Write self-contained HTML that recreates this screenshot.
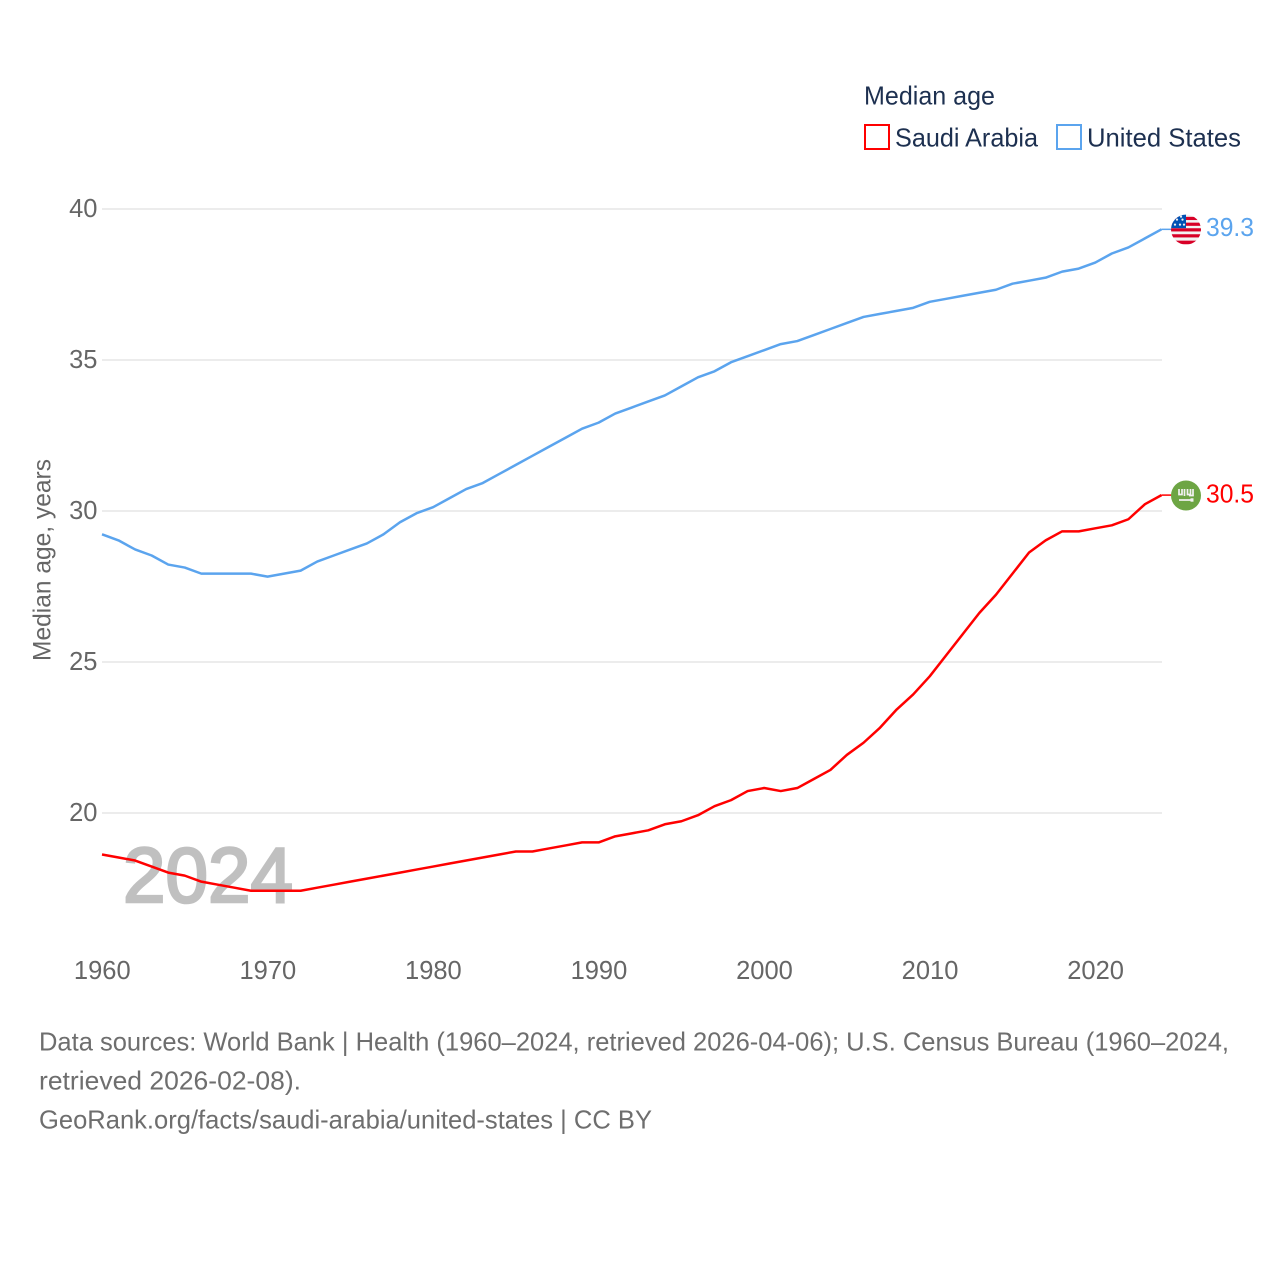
<!DOCTYPE html>
<html lang="en">
<head>
<meta charset="utf-8">
<title>Median age: Saudi Arabia and United States</title>
<style>
html,body{margin:0;padding:0;background:#fff;}
svg{display:block;font-family:"Liberation Sans",sans-serif;}
</style>
</head>
<body>
<svg id="chart" xmlns="http://www.w3.org/2000/svg" width="1280" height="1280" viewBox="0 0 1280 1280">
  <defs>
    <clipPath id="flag-clip"><circle cx="0" cy="0" r="15"></circle></clipPath>
  </defs>
  <rect x="0" y="0" width="1280" height="1280" fill="#ffffff"></rect>

  <g id="grid"></g>
  <g id="y-ticks"></g>
  <g id="x-ticks"></g>

  <text transform="translate(50.5,560) rotate(-90)" text-anchor="middle" font-size="25" fill="#666666" textLength="202" lengthAdjust="spacingAndGlyphs">Median age, years</text>

  <text x="123" y="902" font-size="78" font-weight="400" fill="#c0c0c0" stroke="#c0c0c0" stroke-width="2.6" textLength="170" lengthAdjust="spacingAndGlyphs">2024</text>

  <g id="series"></g>

  <g id="flag-us">
    <g clip-path="url(#flag-clip)">
      <rect x="-16" y="-16" width="32" height="32" fill="#f2f2f2"></rect>
      <rect x="-16" y="-12.8" width="32" height="3.2" fill="#d80027"></rect>
      <rect x="-16" y="-7" width="32" height="3.2" fill="#d80027"></rect>
      <rect x="-16" y="-1.4" width="32" height="3.2" fill="#d80027"></rect>
      <rect x="-16" y="4.6" width="32" height="3.2" fill="#d80027"></rect>
      <rect x="-16" y="11" width="32" height="3.6" fill="#d80027"></rect>
      <rect x="-16" y="-16" width="16" height="14.5" fill="#0052b4"></rect>
      <circle cx="-9" cy="-10" r="1.1" fill="#f0f0f0"></circle>
      <circle cx="-3.5" cy="-10" r="1.1" fill="#f0f0f0"></circle>
      <circle cx="-11" cy="-5" r="1.1" fill="#f0f0f0"></circle>
      <circle cx="-6" cy="-5" r="1.1" fill="#f0f0f0"></circle>
      <circle cx="-2" cy="-5" r="1.1" fill="#f0f0f0"></circle>
      <circle cx="-5" cy="-13" r="1.1" fill="#f0f0f0"></circle>
    </g>
  </g>

  <g id="flag-sa">
    <circle cx="0" cy="0" r="15" fill="#6da544"></circle>
    <g fill="none" stroke="#f2f2f2" stroke-width="1.7">
      <path d="M-7 -6.5 V-1 H-4 V-6.5 M-1.5 -6.5 V0.5 M1.5 -6.5 V-1 H4.5 V-6.5 M7 -6.5 V0 H3"></path>
      <path d="M-7 4.5 H5"></path>
    </g>
    <rect x="4.5" y="2.8" width="3" height="3.4" fill="#f2f2f2"></rect>
  </g>

  <g id="end-labels"></g>

  <g>
    <text x="864" y="104.5" font-size="26" fill="#1d3050" textLength="131" lengthAdjust="spacingAndGlyphs">Median age</text>
    <g>
      <rect x="865" y="125" width="24" height="24" fill="none" stroke="#ff0000" stroke-width="2"></rect>
      <text x="895" y="146.5" font-size="26" fill="#1d3050" textLength="143" lengthAdjust="spacingAndGlyphs">Saudi Arabia</text>
    </g>
    <g>
      <rect x="1057" y="125" width="24" height="24" fill="none" stroke="#5ba4ee" stroke-width="2"></rect>
      <text x="1087" y="146.5" font-size="26" fill="#1d3050" textLength="154" lengthAdjust="spacingAndGlyphs">United States</text>
    </g>
  </g>

  <g font-size="26" fill="#6e6e6e">
    <text x="39" y="1050.5" textLength="1190" lengthAdjust="spacingAndGlyphs">Data sources: World Bank | Health (1960–2024, retrieved 2026-04-06); U.S. Census Bureau (1960–2024,</text>
    <text x="39" y="1089.5" textLength="262" lengthAdjust="spacingAndGlyphs">retrieved 2026-02-08).</text>
    <text x="39" y="1128.5" textLength="613" lengthAdjust="spacingAndGlyphs">GeoRank.org/facts/saudi-arabia/united-states | CC BY</text>
  </g>
</svg>

<script>
const years = [1960,1961,1962,1963,1964,1965,1966,1967,1968,1969,1970,1971,1972,1973,1974,1975,1976,1977,1978,1979,1980,1981,1982,1983,1984,1985,1986,1987,1988,1989,1990,1991,1992,1993,1994,1995,1996,1997,1998,1999,2000,2001,2002,2003,2004,2005,2006,2007,2008,2009,2010,2011,2012,2013,2014,2015,2016,2017,2018,2019,2020,2021,2022,2023,2024];
const usValues = [29.2,29.0,28.7,28.5,28.2,28.1,27.9,27.9,27.9,27.9,27.8,27.9,28.0,28.3,28.5,28.7,28.9,29.2,29.6,29.9,30.1,30.4,30.7,30.9,31.2,31.5,31.8,32.1,32.4,32.7,32.9,33.2,33.4,33.6,33.8,34.1,34.4,34.6,34.9,35.1,35.3,35.5,35.6,35.8,36.0,36.2,36.4,36.5,36.6,36.7,36.9,37.0,37.1,37.2,37.3,37.5,37.6,37.7,37.9,38.0,38.2,38.5,38.7,39.0,39.3];
const saudiValues = [18.6,18.5,18.4,18.2,18.0,17.9,17.7,17.6,17.5,17.4,17.4,17.4,17.4,17.5,17.6,17.7,17.8,17.9,18.0,18.1,18.2,18.3,18.4,18.5,18.6,18.7,18.7,18.8,18.9,19.0,19.0,19.2,19.3,19.4,19.6,19.7,19.9,20.2,20.4,20.7,20.8,20.7,20.8,21.1,21.4,21.9,22.3,22.8,23.4,23.9,24.5,25.2,25.9,26.6,27.2,27.9,28.6,29.0,29.3,29.3,29.4,29.5,29.7,30.2,30.5];
const yTickValues = [20,25,30,35,40];
const xTickValues = [1960,1970,1980,1990,2000,2010,2020];

const SVG_NS = 'http://www.w3.org/2000/svg';
const US_COLOR = '#5ba4ee';
const SA_COLOR = '#ff0000';
const LINE_NUDGE = -0.8;

function xScale(year) {
  return 102 + (year - 1960) * (1161.5 - 102) / (2024 - 1960);
}
function yScale(value) {
  return 813 - (value - 20) * (813 - 209) / (40 - 20);
}
function make(tag, attrs, parent) {
  const el = document.createElementNS(SVG_NS, tag);
  Object.keys(attrs).forEach(function (k) { el.setAttribute(k, attrs[k]); });
  parent.appendChild(el);
  return el;
}

const gridGroup = document.getElementById('grid');
const yTickGroup = document.getElementById('y-ticks');
yTickValues.forEach(function (v) {
  const line = make('line', {x1: 102, x2: 1162, y1: yScale(v), y2: yScale(v), stroke: '#ececec', 'stroke-width': 2}, gridGroup);
  
  
  const label = make('text', {x: 97.5, y: yScale(v) + 8, 'text-anchor': 'end', 'font-size': 25.5, fill: '#666666'}, yTickGroup);
  
  
  label.textContent = String(v);
});

const xTickGroup = document.getElementById('x-ticks');
xTickValues.forEach(function (year) {
  const label = make('text', {x: xScale(year) + 0.3, y: 979, 'text-anchor': 'middle', 'font-size': 25.5, fill: '#666666'}, xTickGroup);
  
  
  label.textContent = String(year);
});

function pointsFor(values) {
  return values.map(function (v, i) {
    return xScale(years[i]).toFixed(2) + ',' + (yScale(v) + LINE_NUDGE).toFixed(2);
  }).join(' ');
}

const seriesGroup = document.getElementById('series');

const saudiLine = make('polyline', {points: pointsFor(saudiValues), fill: 'none', stroke: SA_COLOR, 'stroke-width': 2.5, 'stroke-linejoin': 'round'}, seriesGroup);



const usLine = make('polyline', {points: pointsFor(usValues), fill: 'none', stroke: US_COLOR, 'stroke-width': 2.5, 'stroke-linejoin': 'round'}, seriesGroup);



const lastUs = usValues[usValues.length - 1];
const lastSa = saudiValues[saudiValues.length - 1];
const lastX = xScale(years[years.length - 1]);

const usConnector = make('line', {x1: lastX, x2: lastX + 10, y1: yScale(lastUs) + LINE_NUDGE, y2: yScale(lastUs) + LINE_NUDGE, stroke: US_COLOR, 'stroke-width': 1.5}, seriesGroup);



const saConnector = make('line', {x1: lastX, x2: lastX + 10, y1: yScale(lastSa) + LINE_NUDGE, y2: yScale(lastSa) + LINE_NUDGE, stroke: SA_COLOR, 'stroke-width': 1.5}, seriesGroup);



document.getElementById('flag-us').setAttribute('transform', 'translate(' + (lastX + 24.5) + ',' + (yScale(lastUs) - 0.5) + ')');
document.getElementById('flag-sa').setAttribute('transform', 'translate(' + (lastX + 24.5) + ',' + (yScale(lastSa) - 0.4) + ')');

const labelGroup = document.getElementById('end-labels');

const usLabel = make('text', {x: lastX + 44.5, y: yScale(lastUs) + 6, 'font-size': 25.5, fill: US_COLOR, textLength: 48, lengthAdjust: 'spacingAndGlyphs'}, labelGroup);


usLabel.textContent = lastUs.toFixed(1);

const saLabel = make('text', {x: lastX + 44.5, y: yScale(lastSa) + 6.5, 'font-size': 25.5, fill: SA_COLOR, textLength: 48, lengthAdjust: 'spacingAndGlyphs'}, labelGroup);


saLabel.textContent = lastSa.toFixed(1);
</script>
</body>
</html>
